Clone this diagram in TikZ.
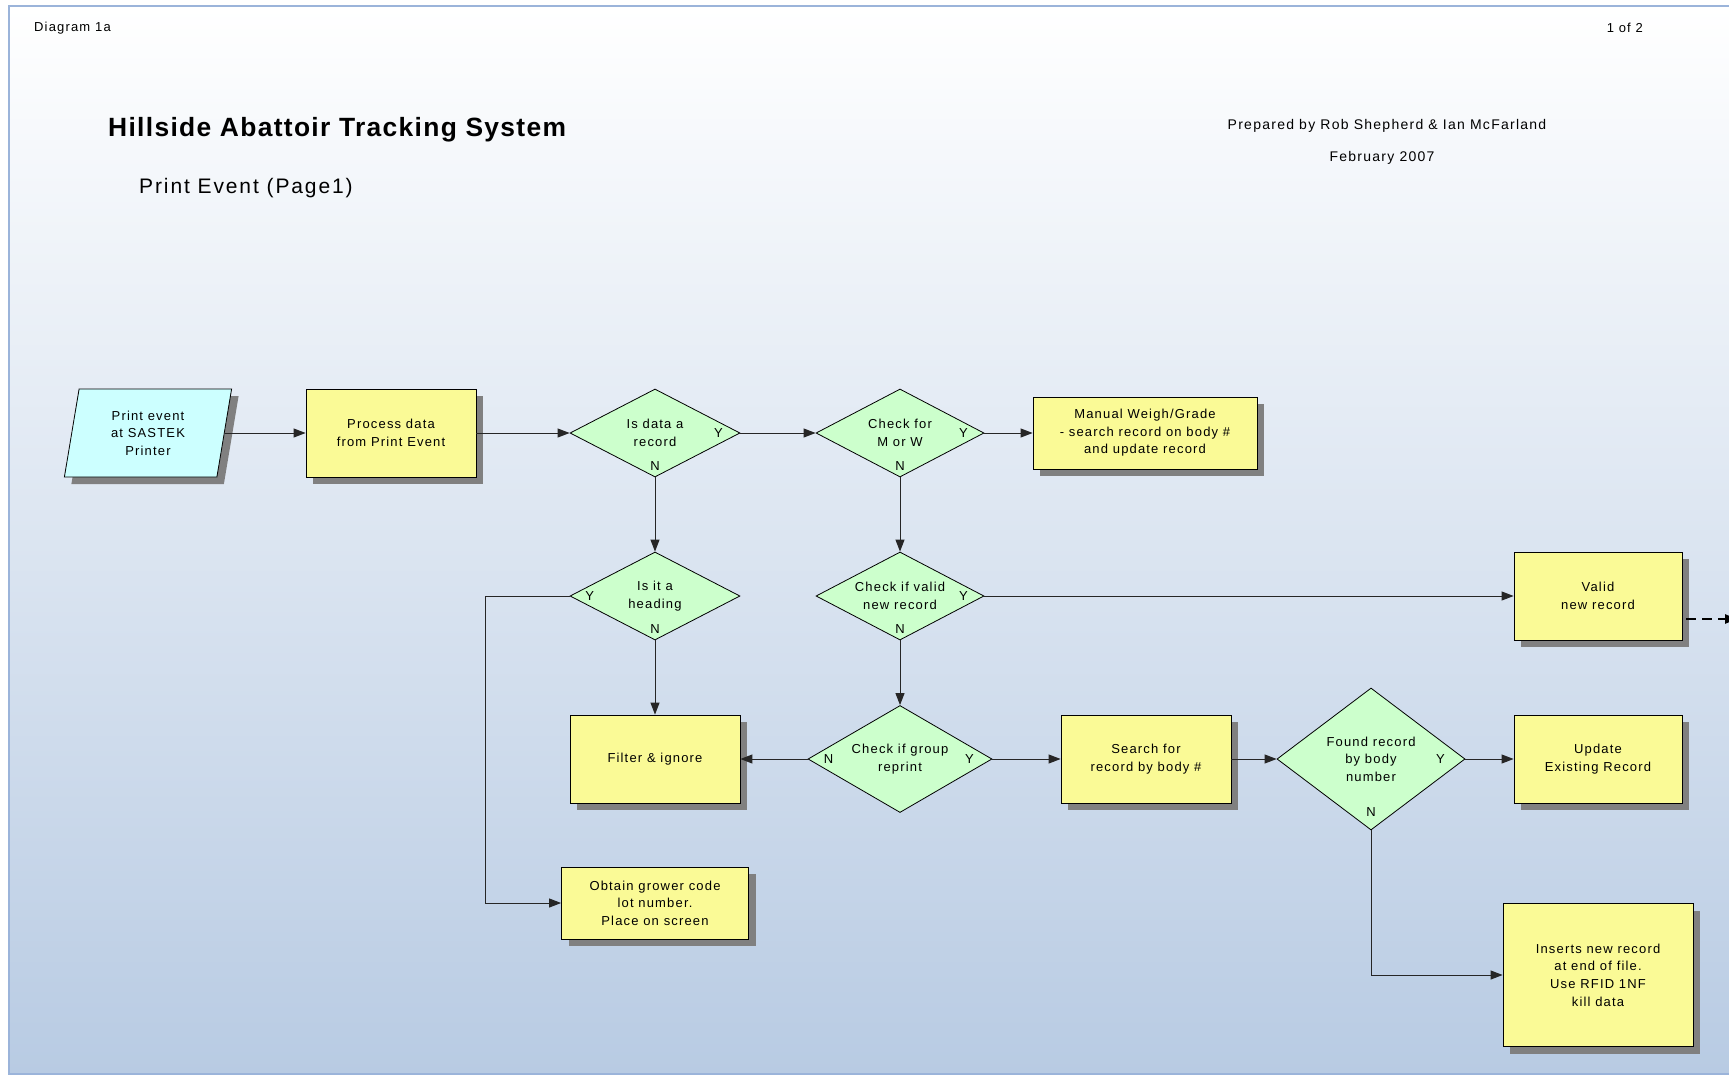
\documentclass[tikz,border=0pt]{standalone}
\usepackage{fontspec}
\setmainfont{Liberation Sans}
\newfontfamily\boxfont[LetterSpace=9]{Liberation Sans}
\newfontfamily\titlefont[LetterSpace=5]{Liberation Sans}
\usetikzlibrary{shapes.geometric,arrows.meta,shadows,positioning}
\definecolor{boxyellow}{RGB}{250,250,150}
\definecolor{decgreen}{RGB}{204,255,204}
\definecolor{evcyan}{RGB}{204,255,255}
\definecolor{shgray}{RGB}{128,128,128}
\definecolor{framebl}{RGB}{155,180,218}
\definecolor{bgbot}{RGB}{184,203,227}
\begin{document}
\begin{tikzpicture}[x=1pt,y=-1pt,>={Triangle[length=12pt,width=9pt]},
	every node/.style={font=\boxfont\fontsize{13}{17.6}\selectfont},
	shad/.style={drop shadow={shadow xshift=7pt,shadow yshift=-7pt,fill=shgray,opacity=1}},
	proc/.style={draw,line width=0.8pt,fill=boxyellow,align=center,inner sep=0pt,minimum width=170pt,minimum height=88pt,shad},
	evt/.style={draw,line width=0.8pt,fill=evcyan,align=center,inner sep=0pt,trapezium,trapezium left angle=80,trapezium right angle=100,trapezium stretches=true,minimum width=168pt,minimum height=88pt,shad},
	dec/.style={draw,line width=0.8pt,fill=decgreen,align=center,inner sep=0pt,diamond,aspect=1.93,minimum width=170pt,minimum height=88pt},
	yn/.style={inner sep=0pt},
	flow/.style={->,line width=1pt,black!85},
	pagelink/.style={->,line width=2.5pt,dash pattern=on 10pt off 6pt}]
	\useasboundingbox (0,0) rectangle (1729,1076);
	\shade[top color=white,bottom color=bgbot] (9,6) rectangle (1729,1074);
	\draw[framebl,line width=2pt] (1729,6)--(9,6)--(9,1074)--(1729,1074);
	% page header
	\node[anchor=west,inner sep=0pt] (diag) at (34,28) {Diagram 1a};
	\node[anchor=east,inner sep=0pt] (pg) at (1643,28) {1 of 2};
	\node[anchor=west,inner sep=0pt,font=\titlefont\bfseries\fontsize{26.4}{30}\selectfont] (title) at (108,130) {Hillside Abattoir Tracking System};
	\node[anchor=west,inner sep=0pt,font=\boxfont\fontsize{21}{24}\selectfont] (sub) at (139,188) {Print Event (Page1)};
	\node[inner sep=0pt,font=\boxfont\fontsize{14}{16}\selectfont] (prep) at (1387,126) {Prepared by Rob Shepherd \& Ian McFarland};
	\node[inner sep=0pt,font=\boxfont\fontsize{14}{16}\selectfont] (date) at (1382,158) {February 2007};
	% flow chart
	\node[evt] (pe) at (148,433) {Print event\\at SASTEK\\Printer};
	\node[proc] (pd) at (391,433) {Process data\\from Print Event};
	\node[dec] (isrec) at (655,433) {Is data a\\record};
	\node[dec,minimum width=168pt] (mw) at (900,433) {Check for\\M or W};
	\node[proc,minimum width=224pt,minimum height=72pt] (man) at (1145,433) {Manual Weigh/Grade\\- search record on body \#\\and update record};
	\node[dec] (head) at (655,596) {Is it a\\heading};
	\node[dec,minimum width=168pt] (valid) at (900,596) {Check if valid\\new record};
	\node[proc,minimum width=168pt] (newrec) at (1598,596) {Valid\\new record};
	\node[proc] (filt) at (655,759) {Filter \& ignore};
	\node[dec,aspect=1.72,minimum width=184pt,minimum height=107pt] (grp) at (900,759) {Check if group\\reprint};
	\node[proc] (srch) at (1146,759) {Search for\\record by body \#};
	\node[dec,aspect=1.32,minimum width=188pt,minimum height=142pt] (found) at (1371,759) {Found record\\by body\\number};
	\node[proc,minimum width=168pt] (upd) at (1598,759) {Update\\Existing Record};
	\node[proc,minimum width=187pt,minimum height=72pt] (grow) at (655,903) {Obtain grower code\\lot number.\\Place on screen};
	\node[proc,minimum width=190pt,minimum height=143pt] (ins) at (1598,975) {Inserts new record\\at end of file.\\Use RFID 1NF\\kill data};
	% Y / N marks
	\node[yn] (isrec-y) at ([xshift=-22pt]isrec.east) {Y};
	\node[yn] (isrec-n) at ([yshift=11pt]isrec.south) {N};
	\node[yn] (mw-y) at ([xshift=-21pt]mw.east) {Y};
	\node[yn] (mw-n) at ([yshift=11pt]mw.south) {N};
	\node[yn] (head-y) at ([xshift=20pt]head.west) {Y};
	\node[yn] (head-n) at ([yshift=11pt]head.south) {N};
	\node[yn] (valid-y) at ([xshift=-21pt]valid.east) {Y};
	\node[yn] (valid-n) at ([yshift=11pt]valid.south) {N};
	\node[yn] (grp-n) at ([xshift=21pt]grp.west) {N};
	\node[yn] (grp-y) at ([xshift=-23pt]grp.east) {Y};
	\node[yn] (found-y) at ([xshift=-25pt]found.east) {Y};
	\node[yn] (found-n) at ([yshift=18pt]found.south) {N};
	% connectors
	\draw[flow] (pe)--(pd);
	\draw[flow] (pd)--(isrec);
	\draw[flow] (isrec)--(mw);
	\draw[flow] (mw)--(man);
	\draw[flow] (isrec)--(head);
	\draw[flow] (mw)--(valid);
	\draw[flow] (head)--(filt);
	\draw[flow] (head.west)--++(-84,0)|-(grow.west);
	\draw[flow] (valid)--(newrec);
	\draw[flow] (valid)--(grp);
	\draw[flow] (grp)--(filt);
	\draw[flow] (grp)--(srch);
	\draw[flow] (srch)--(found);
	\draw[flow] (found)--(upd);
	\draw[flow] (found.south)|-(ins.west);
	\coordinate (offpage) at (1737,619);
	\draw[pagelink] ([xshift=4pt,yshift=-23pt]newrec.east)--(offpage);
\end{tikzpicture}
\end{document}
